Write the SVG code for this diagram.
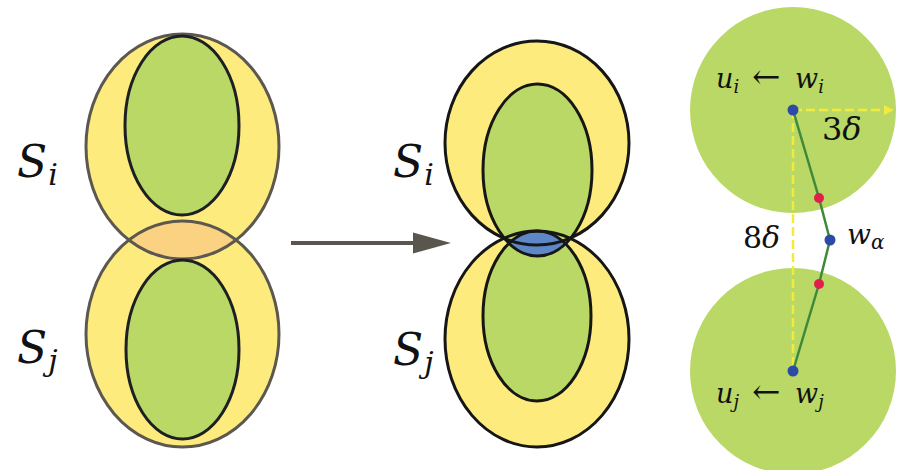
<svg xmlns="http://www.w3.org/2000/svg" width="899" height="470" viewBox="0 0 899 470">
<style>
.yel{fill:#FEEB7E}
.grn{fill:#B9D866}
.org{fill:#FBD182}
.blu{fill:#5D87C6}
.ol{fill:none;stroke:#5C5850;stroke-width:3}
.il{fill:none;stroke:#1C1F24;stroke-width:3}
.bl{fill:none;stroke:#161616;stroke-width:3}
text{font-family:'DejaVu Serif','Liberation Serif',serif;font-style:italic;fill:#111}
.up{font-style:normal}
.dash{stroke:#F4EA3C;stroke-width:2.5;stroke-dasharray:9 4;fill:none}
</style>
<defs>
<clipPath id="cL"><ellipse cx="182.5" cy="146.5" rx="96.5" ry="112.5"/></clipPath>
<clipPath id="cMo"><ellipse cx="537" cy="143" rx="92" ry="102"/></clipPath>
<clipPath id="cMi"><ellipse cx="537.5" cy="170" rx="54.5" ry="86"/></clipPath>
<marker id="ah" viewBox="0 0 10 10" refX="0" refY="5" markerWidth="10" markerHeight="10" markerUnits="userSpaceOnUse" orient="auto"><path d="M0,0 L10,5 L0,10 z" fill="#F4EA3C"/></marker>
</defs>

<g id="left-fig">
<g id="Si-left">
<ellipse class="yel" cx="182.5" cy="146.5" rx="96.5" ry="112.5"/>
</g>
<g id="Sj-left">
<ellipse class="yel" cx="182.5" cy="334" rx="96.5" ry="113"/>
</g>
<ellipse class="org" cx="182.5" cy="334" rx="96.5" ry="113" clip-path="url(#cL)"/>
<ellipse class="grn" cx="182" cy="125.5" rx="57" ry="89.5"/>
<ellipse class="grn" cx="182.5" cy="349.5" rx="56.5" ry="89.5"/>
<ellipse class="ol" cx="182.5" cy="146.5" rx="96.5" ry="112.5"/>
<ellipse class="ol" cx="182.5" cy="334" rx="96.5" ry="113"/>
<ellipse class="il" cx="182" cy="125.5" rx="57" ry="89.5"/>
<ellipse class="il" cx="182.5" cy="349.5" rx="56.5" ry="89.5"/>
<text x="17" y="177" font-size="44">S<tspan font-size="30" dx="1" dy="8">i</tspan></text>
<text x="17" y="363" font-size="44">S<tspan font-size="30" dx="1" dy="8">j</tspan></text>
</g>

<g id="connectors">
<line x1="291" y1="243" x2="414" y2="243" stroke="#5A554D" stroke-width="4"/>
<path d="M413,232.5 L451,243 L413,253.5 z" fill="#5A554D"/>
</g>

<g id="mid-fig">
<g id="Si-mid">
<ellipse class="yel" cx="537" cy="143" rx="92" ry="102"/>
</g>
<g id="Sj-mid">
<ellipse class="yel" cx="537" cy="339" rx="92" ry="108"/>
</g>
<ellipse class="org" cx="537" cy="339" rx="92" ry="108" clip-path="url(#cMo)"/>
<ellipse class="grn" cx="537.5" cy="170" rx="54.5" ry="86"/>
<ellipse class="grn" cx="537" cy="316" rx="54" ry="85"/>
<ellipse class="blu" cx="537" cy="316" rx="54" ry="85" clip-path="url(#cMi)"/>
<ellipse class="bl" cx="537" cy="143" rx="92" ry="102"/>
<ellipse class="bl" cx="537" cy="339" rx="92" ry="108"/>
<ellipse class="bl" cx="537.5" cy="170" rx="54.5" ry="86"/>
<ellipse class="bl" cx="537" cy="316" rx="54" ry="85"/>
<text x="393" y="177" font-size="44">S<tspan font-size="30" dx="1" dy="8">i</tspan></text>
<text x="393" y="365" font-size="44">S<tspan font-size="30" dx="1" dy="8">j</tspan></text>
</g>

<g id="right-fig">
<g id="disk-i"><circle class="grn" cx="793" cy="110" r="103"/></g>
<g id="disk-j"><circle class="grn" cx="793" cy="371" r="103"/></g>
<line class="dash" x1="793" y1="110" x2="793" y2="371"/>
<line class="dash" x1="793" y1="110" x2="884" y2="110" marker-end="url(#ah)"/>
<polyline points="793,110 819,198 830,240 819,284 793,371" fill="none" stroke="#3E8A3A" stroke-width="2.5"/>
<g id="node-ui"><circle cx="793" cy="110" r="5.5" fill="#2C4BA6"/></g>
<g id="node-uj"><circle cx="793" cy="371" r="5.5" fill="#2C4BA6"/></g>
<g id="node-wa"><circle cx="830" cy="240" r="5.5" fill="#2C4BA6"/></g>
<circle cx="819" cy="198" r="5" fill="#E21E4C"/>
<circle cx="819" cy="284" r="5" fill="#E21E4C"/>
<text x="716" y="88" font-size="27">u<tspan font-size="18" dy="5">i</tspan><tspan class="up" x="752" dy="-5" font-size="34">←</tspan><tspan x="795">w</tspan><tspan font-size="18" dy="5">i</tspan></text>
<text x="716" y="403" font-size="27">u<tspan font-size="18" dy="5">j</tspan><tspan class="up" x="752" dy="-5" font-size="34">←</tspan><tspan x="795">w</tspan><tspan font-size="18" dy="5">j</tspan></text>
<text x="822" y="140" font-size="32"><tspan class="up">3</tspan>δ</text>
<text x="743" y="248" font-size="30"><tspan class="up">8</tspan>δ</text>
<text x="847" y="244" font-size="28">w<tspan font-size="20" dy="5">α</tspan></text>
</g>
</svg>
